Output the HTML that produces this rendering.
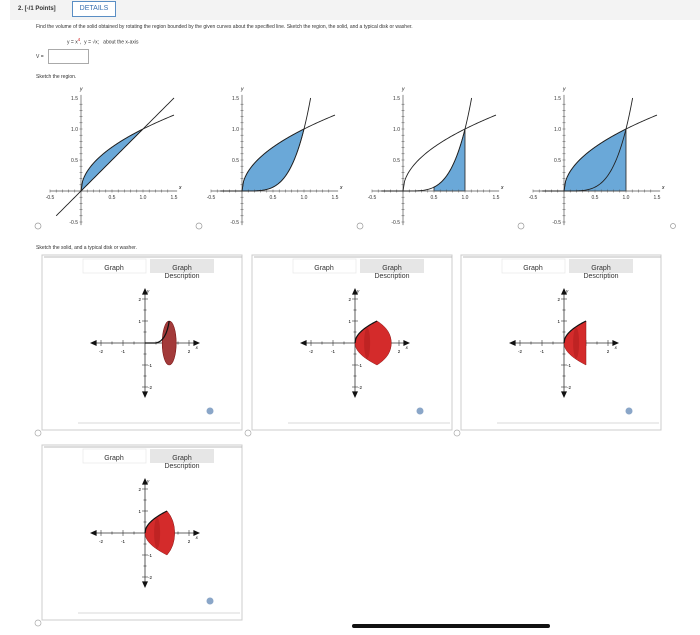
<!DOCTYPE html>
<html><head><meta charset="utf-8"><style>
body{margin:0;width:700px;height:635px;background:#fff;font-family:"Liberation Sans",sans-serif;position:relative;overflow:hidden}
.t{position:absolute;font-size:5px;color:#333;white-space:nowrap}
</style></head><body>
<div style="position:absolute;left:10px;top:0;width:690px;height:20px;background:#f3f3f3"></div>
<div class="t" style="left:18px;top:6px;font-size:6px;font-weight:bold">2. [-/1 Points]</div>
<div style="position:absolute;left:72px;top:1px;width:42px;height:14px;border:1px solid #5a8ec4;background:#fff;color:#3a70b0;font-size:7px;text-align:center;line-height:14px">DETAILS</div>
<div class="t" style="left:36px;top:24px">Find the volume of the solid obtained by rotating the region bounded by the given curves about the specified line. Sketch the region, the solid, and a typical disk or washer.</div>
<div class="t" style="left:67px;top:37px">y = x<sup style="color:#c00">4</sup>,&nbsp; y = √x;&nbsp;&nbsp; about the x-axis</div>
<div class="t" style="left:36px;top:54px">V =</div>
<div style="position:absolute;left:48px;top:49px;width:39px;height:13px;border:1px solid #aaa"></div>
<div class="t" style="left:36px;top:74px">Sketch the region.</div>
<div class="t" style="left:36px;top:245px">Sketch the solid, and a typical disk or washer.</div>
<div style="position:absolute;left:352px;top:624px;width:198px;height:4px;border-radius:2px;background:#111"></div>
<svg id="s" width="700" height="635" style="position:absolute;left:0;top:0"></svg>
<script>
const regionOrigins=[81,242,403,564];
const upperExp=[0.5,0.5,0.5,0.5];
const lowerExp=[1,4,4,4];
const shadeFrom=[0,0,0.5,0];
const tickLabels=["-0.5","0.5","1.0","1.5"];
const tickVals=[-0.5,0.5,1,1.5];
const yTickVals=[1.5,1.0,0.5,-0.5];
const solidTypes=["ellipse","round","cut","round"];
const solidEnds=[1.1,1.3,1.0,1.0];
const NS="http://www.w3.org/2000/svg",S=document.getElementById('s');
function mk(t,a,p){const e=document.createElementNS(NS,t);for(const k in a)e.setAttribute(k,a[k]);(p||S).appendChild(e);return e}
const U=62,OY=191;
function f(x,e){return x<0?(e===1?x:0):Math.pow(x,e)}
regionOrigins.forEach((ox,i)=>{
  const g=mk('g',{});
  
  
  const X=v=>ox+v*U,Y=v=>OY-v*U;
  let pts=[];const a=shadeFrom[i];
  const upper=(i===2)?lowerExp[i]:upperExp[i];
  const lower=(i>=2)?null:lowerExp[i];
  for(let k=0;k<=40;k++){const x=a+(1-a)*k/40;pts.push(X(x)+','+Y(f(x,upper)))}
  if(lower===null){pts.push(X(1)+','+Y(0));pts.push(X(a)+','+Y(0))}
  else for(let k=40;k>=0;k--){const x=k/40;pts.push(X(x)+','+Y(f(x,lower)))}
  const sh=mk('polygon',{points:pts.join(' '),fill:'#6aa8d8',stroke:'#222','stroke-width':0.8},g);
  
  
  mk('line',{x1:X(-0.5),y1:OY,x2:X(1.55),y2:OY,stroke:'#555','stroke-width':0.7},g);
  mk('line',{x1:ox,y1:Y(1.55),x2:ox,y2:Y(-0.55),stroke:'#555','stroke-width':0.7},g);
  for(let v=-0.5;v<=1.5;v+=0.1){mk('line',{x1:X(v),y1:OY-1.5,x2:X(v),y2:OY+1.5,stroke:'#555','stroke-width':0.5},g);mk('line',{x1:ox-1.5,y1:Y(v),x2:ox+1.5,y2:Y(v),stroke:'#555','stroke-width':0.5},g)}
  tickVals.forEach((v,j)=>{const t=mk('text',{x:X(v),y:OY+8,'font-size':5,'text-anchor':'middle',fill:'#333'},g);t.textContent=tickLabels[j]});
  yTickVals.forEach(v=>{const t=mk('text',{x:ox-3,y:Y(v)+2,'font-size':5,'text-anchor':'end',fill:'#333'},g);t.textContent=v.toFixed(1)});
  mk('text',{x:X(1.58),y:OY-2,'font-size':5,'font-style':'italic'},g).textContent='x';
  mk('text',{x:ox-1,y:Y(1.62),'font-size':5,'font-style':'italic'},g).textContent='y';
  let c1=[];for(let k=0;k<=60;k++){const x=1.5*k/60;c1.push(X(x)+','+Y(f(x,upperExp[i])))}
  mk('polyline',{points:c1.join(' '),fill:'none',stroke:'#222','stroke-width':0.9},g);
  let c2=[];const e=lowerExp[i];const xmax=Math.min(1.5,Math.pow(1.5,1/e)),xmin=e===1?-0.4:-0.35;
  for(let k=0;k<=80;k++){const x=xmin+(xmax-xmin)*k/80;c2.push(X(x)+','+Y(f(x,e)))}
  mk('polyline',{points:c2.join(' '),fill:'none',stroke:'#222','stroke-width':0.9},g);
  const r=mk('circle',{cx:ox-43,cy:226,r:3,fill:'#fff',stroke:'#999','stroke-width':0.7});
  
  
});
mk('circle',{cx:673,cy:226,r:2.5,fill:'#fff',stroke:'#999','stroke-width':0.7});
const panels=[[42,255],[252,255],[461,255],[42,445]];
panels.forEach((p,i)=>{
  const [px,py]=p;const g=mk('g',{});
  
  
  mk('rect',{x:px,y:py,width:200,height:175,fill:'#fff',stroke:'#ccc','stroke-width':1},g);
  mk('line',{x1:px+2,y1:py+2,x2:px+200,y2:py+2,stroke:'#bbb','stroke-width':1},g);
  const tab=mk('rect',{x:px+41,y:py+4,width:63,height:14,fill:'#fff',stroke:'#e4e4e4','stroke-width':0.6},g);
  
  
  mk('text',{x:px+72,y:py+15,'font-size':7,'text-anchor':'middle',fill:'#333'},g).textContent='Graph';
  const tab2=mk('rect',{x:px+108,y:py+4,width:64,height:14,fill:'#e6e6e6'},g);
  
  
  mk('text',{x:px+140,y:py+15,'font-size':7,'text-anchor':'middle',fill:'#333'},g).textContent='Graph';
  mk('text',{x:px+140,y:py+23,'font-size':7,'text-anchor':'middle',fill:'#333'},g).textContent='Description';
  const ox=px+103,oy=py+88,u=22;
  mk('line',{x1:ox-2.3*u,y1:oy,x2:ox+2.3*u,y2:oy,stroke:'#333','stroke-width':0.8},g);
  mk('line',{x1:ox,y1:oy-2.3*u,x2:ox,y2:oy+2.3*u,stroke:'#333','stroke-width':0.8},g);
  mk('polygon',{points:`${ox-2.5*u},${oy} ${ox-2.2*u},${oy-3} ${ox-2.2*u},${oy+3}`,fill:'#111'},g);
  mk('polygon',{points:`${ox+2.5*u},${oy} ${ox+2.2*u},${oy-3} ${ox+2.2*u},${oy+3}`,fill:'#111'},g);
  mk('polygon',{points:`${ox},${oy-2.5*u} ${ox-3},${oy-2.2*u} ${ox+3},${oy-2.2*u}`,fill:'#111'},g);
  mk('polygon',{points:`${ox},${oy+2.5*u} ${ox-3},${oy+2.2*u} ${ox+3},${oy+2.2*u}`,fill:'#111'},g);
  for(let v=-2;v<=2;v+=0.5){if(v===0)continue;const L=Number.isInteger(v)?3:1.5;
    mk('line',{x1:ox+v*u,y1:oy-L,x2:ox+v*u,y2:oy+L,stroke:'#333','stroke-width':0.6},g);
    mk('line',{x1:ox-L,y1:oy-v*u,x2:ox+L,y2:oy-v*u,stroke:'#333','stroke-width':0.6},g)}
  [[-2,'-2'],[-1,'-1'],[2,'2']].forEach(([v,s])=>{mk('text',{x:ox+v*u,y:oy+10,'font-size':4.5,'text-anchor':'middle'},g).textContent=s;});
  [[2,'2'],[1,'1'],[-1,'-1'],[-2,'-2']].forEach(([v,s])=>{mk('text',{x:v>0?ox-4:ox+3,y:oy-v*u+2,'font-size':4.5,'text-anchor':v>0?'end':'start'},g).textContent=s;});
  mk('text',{x:ox+2.3*u,y:oy+6,'font-size':4.5,'font-style':'italic'},g).textContent='x';
  mk('text',{x:ox+2,y:oy-2.3*u,'font-size':4.5,'font-style':'italic'},g).textContent='y';
  const type=solidTypes[i],xe=solidEnds[i];
  let sol;
  if(type==='ellipse'){
    sol=mk('ellipse',{cx:ox+xe*u,cy:oy,rx:7,ry:u,fill:'#a33a3a',stroke:'#7a1515','stroke-width':0.6},g);
    mk('path',{d:`M${ox} ${oy} L${ox+0.5*u} ${oy} Q${ox+xe*u-3} ${oy-2} ${ox+xe*u} ${oy-u}`,fill:'none',stroke:'#111','stroke-width':1.2},g);
  } else {
    let up=[],dn=[];const xm=1;
    for(let k=0;k<=30;k++){const x=xm*k/30;up.push((ox+x*u)+','+(oy-Math.sqrt(x)*u));dn.unshift((ox+x*u)+','+(oy+Math.sqrt(x)*u));}
    let d='M'+up.join(' L');
    if(type==='round') d+=` Q${ox+(xe+0.35)*u} ${oy-u*0.6} ${ox+(xe+0.35)*u} ${oy} Q${ox+(xe+0.35)*u} ${oy+u*0.6} ${ox+u} ${oy+u}`;
    d+=' L'+dn.join(' L')+'Z';
    sol=mk('path',{d:d,fill:'#d42b2b',stroke:'#8a1a1a','stroke-width':0.5},g);
    mk('ellipse',{cx:ox+0.55*u,cy:oy,rx:3,ry:0.7*u,fill:'#b01e1e',opacity:0.6},g);
    mk('polyline',{points:up.join(' '),fill:'none',stroke:'#111','stroke-width':1.2},g);
  }
  
  
  const info=mk('circle',{cx:px+168,cy:py+156,r:3.5,fill:'#8aa6c8'},g);
  
  
  mk('line',{x1:px+36,y1:py+168,x2:px+198,y2:py+168,stroke:'#ccc','stroke-width':0.8},g);
  const r=mk('circle',{cx:px-4,cy:py+178,r:3,fill:'#fff',stroke:'#aaa','stroke-width':0.7},g);
  
  
});
</script>
</body></html>
